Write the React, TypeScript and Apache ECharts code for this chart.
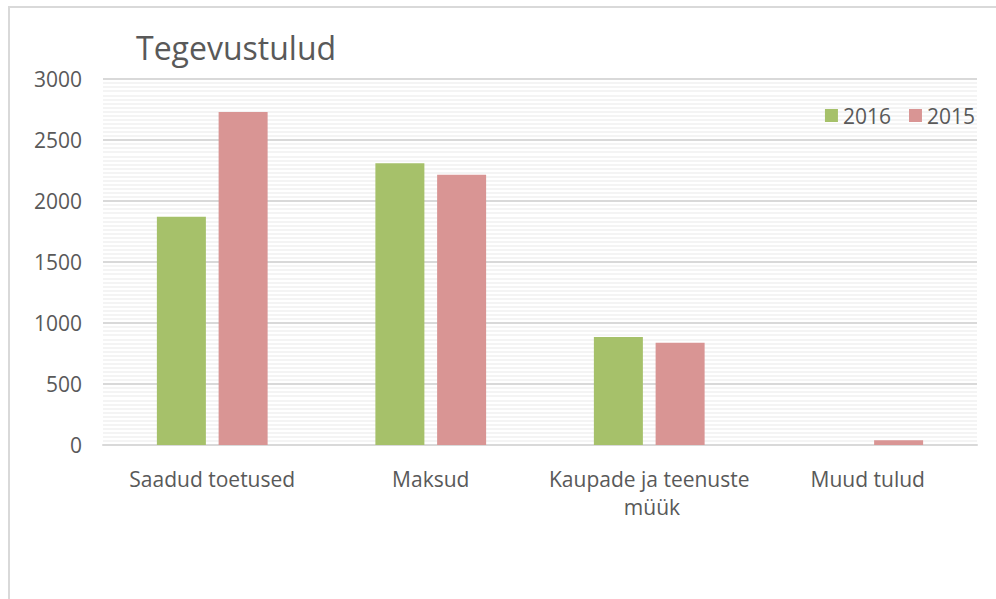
import React, { useEffect, useRef } from "react";
import * as echarts from "echarts";

const categories = ["Saadud toetused", "Maksud", "Kaupade ja teenuste müük", "Muud tulud"];
const series2016 = [1870, 2310, 885, 0];
const series2015 = [2730, 2215, 838, 38];
const seriesNames = ["2016", "2015"];
const yTicks = [0, 500, 1000, 1500, 2000, 2500, 3000];

const FONT = "'Open Sans', sans-serif";
const TEXT = "#595959";

export default function App() {
  const ref = useRef<HTMLDivElement>(null);
  useEffect(() => {
    if (!ref.current) return;
    const chart = echarts.init(ref.current, null, { renderer: "svg" });
    chart.setOption({
      animation: false,
      backgroundColor: "#ffffff",
      textStyle: { fontFamily: FONT },
      title: {
        text: "Tegevustulud",
        left: 131,
        top: 26,
        textStyle: { fontFamily: FONT, fontSize: 32, fontWeight: "normal", color: TEXT },
      },
      legend: {
        data: seriesNames,
        right: 16,
        top: 100,
        icon: "rect",
        itemWidth: 13,
        itemHeight: 13,
        itemGap: 18,
        textStyle: { fontFamily: FONT, fontSize: 21, color: TEXT },
      },
      graphic: [
        {
          type: "rect",
          shape: { x: 9, y: 7, width: 1100, height: 800 },
          style: { fill: "none", stroke: "#d9d9d9", lineWidth: 2 },
          silent: true,
        },
      ],
      grid: { left: 103, right: 19, top: 79, bottom: 154, containLabel: false },
      xAxis: {
        type: "category",
        data: categories,
        axisLine: { show: true, lineStyle: { color: "#d9d9d9", width: 2 } },
        axisTick: { show: false },
        axisLabel: {
          fontFamily: FONT,
          fontSize: 21,
          color: TEXT,
          margin: 20,
          width: 205,
          overflow: "break",
          lineHeight: 28,
          interval: 0,
        },
      },
      yAxis: {
        type: "value",
        min: yTicks[0],
        max: yTicks[yTicks.length - 1],
        interval: 500,
        axisLine: { show: false },
        axisTick: { show: false },
        axisLabel: {
          fontFamily: FONT,
          fontSize: 21,
          color: TEXT,
          margin: 21,
          formatter: (v: number) => String(v),
        },
        splitLine: { show: true, lineStyle: { color: "#d9d9d9", width: 2 } },
        minorTick: { show: false, splitNumber: 15 },
        minorSplitLine: { show: true, lineStyle: { color: "#f0f0f0", width: 1.5 } },
      },
      series: [
        {
          name: seriesNames[0],
          type: "bar",
          data: series2016,
          barWidth: 49,
          barGap: "26%",
          itemStyle: { color: "#a6c16a" },
        },
        {
          name: seriesNames[1],
          type: "bar",
          data: series2015,
          barWidth: 49,
          barGap: "26%",
          itemStyle: { color: "#d99594" },
        },
      ],
    });
    return () => chart.dispose();
  }, []);
  return (
    <div
      ref={ref}
      style={{ position: "fixed", left: 0, top: 0, width: 996, height: 599 }}
    />
  );
}
